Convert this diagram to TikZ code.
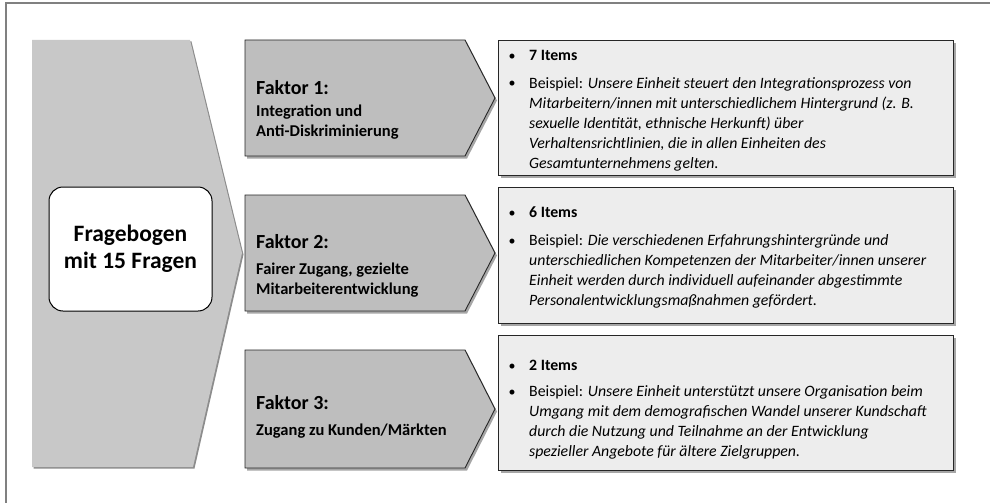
\documentclass[tikz,border=0pt]{standalone}
\usepackage{fontspec}
\setmainfont{Carlito}
\usetikzlibrary{shadows}

\definecolor{framegray}{HTML}{808080}
\definecolor{leftgray}{HTML}{C8C8C8}
\definecolor{faktorgray}{HTML}{BEBEBE}
\definecolor{boxgray}{HTML}{EDEDED}

\tikzset{
  softshadow/.style={drop shadow={shadow xshift=2pt,shadow yshift=-2.5pt,opacity=0.35,fill=black}},
  faktor/.style={draw=black!85,line width=0.9pt,fill=faktorgray,softshadow},
  itembox/.style={draw=black!85,line width=1pt,fill=boxgray,softshadow,
    anchor=north west,inner sep=0pt,minimum width=455pt},
  fragebox/.style={draw=black,line width=1pt,fill=white,rounded corners=14pt,
    minimum width=163pt,minimum height=124pt,align=center,
    font=\bfseries\fontsize{23.5}{27}\selectfont},
  faktorhead/.style={anchor=base west,inner sep=0pt,font=\bfseries\fontsize{20}{24}\selectfont},
  faktorsub/.style={anchor=north west,inner sep=0pt,align=left,font=\bfseries\fontsize{16.5}{20}\selectfont},
  bulletdot/.style={anchor=base,inner sep=0pt,font=\fontsize{14}{20}\selectfont},
  headline/.style={anchor=base west,inner sep=0pt,font=\bfseries\fontsize{15.8}{20}\selectfont},
  bodytext/.style={anchor=north west,inner sep=0pt,align=left,font=\fontsize{15.8}{20}\selectfont}
}

\begin{document}
\begin{tikzpicture}[x=1pt,y=-1pt]
  \useasboundingbox (0,0) rectangle (990,503);

  % Frame
  \draw[framegray,line width=1.2pt] (6,503) -- (6,3) -- (990,3);

  % Big arrow on the left
  \fill[leftgray,drop shadow={shadow xshift=1.5pt,shadow yshift=-1.5pt,opacity=0.45,fill=black}]
    (32,40) -- (190,40) -- (242,253) -- (193,467) -- (32,467) -- cycle;
  \node[fragebox] (frage) at (130.5,249) {Fragebogen\\mit 15 Fragen};

  % Faktor arrows
  \draw[faktor] (245,40) -- (465,40) -- (495,98) -- (465,156) -- (245,156) -- cycle;
  \draw[faktor] (245,195) -- (465,195) -- (495,253) -- (465,311) -- (245,311) -- cycle;
  \draw[faktor] (245,350) -- (465,350) -- (495,409) -- (465,468) -- (245,468) -- cycle;

  \node[faktorhead] (f1) at (256,94) {Faktor 1:};
  \node[faktorsub] (f1sub) at (256,105) {Integration und\\Anti-Diskriminierung};
  \node[faktorhead] (f2) at (256,248) {Faktor 2:};
  \node[faktorsub] (f2sub) at (256,263) {Fairer Zugang, gezielte\\Mitarbeiterentwicklung};
  \node[faktorhead] (f3) at (256,409) {Faktor 3:};
  \node[faktorsub] (f3sub) at (256,424) {Zugang zu Kunden/Märkten};

  % Item boxes
  \node[itembox,minimum height=135pt] (box1) at (498,40) {};
  \node[itembox,minimum height=136pt] (box2) at (498,187) {};
  \node[itembox,minimum height=135pt] (box3) at (498,335) {};

  % Box 1
  \node[bulletdot] (b1a) at (512,60) {•};
  \node[headline] (h1) at (529,60) {7 Items};
  \node[bulletdot] (b1b) at (512,88) {•};
  \node[bodytext] (t1) at (529,77) {Beispiel: \textit{Unsere Einheit steuert den Integrationsprozess von}\\
    \textit{Mitarbeitern/innen mit unterschiedlichem Hintergrund (z. B.}\\
    \textit{sexuelle Identität, ethnische Herkunft) über}\\
    \textit{Verhaltensrichtlinien, die in allen Einheiten des}\\
    \textit{Gesamtunternehmens gelten.}};

  % Box 2
  \node[bulletdot] (b2a) at (512,217) {•};
  \node[headline] (h2) at (529,217) {6 Items};
  \node[bulletdot] (b2b) at (512,245) {•};
  \node[bodytext] (t2) at (529,234) {Beispiel: \textit{Die verschiedenen Erfahrungshintergründe und}\\
    \textit{unterschiedlichen Kompetenzen der Mitarbeiter/innen unserer}\\
    \textit{Einheit werden durch individuell aufeinander abgestimmte}\\
    \textit{Personalentwicklungsmaßnahmen gefördert.}};

  % Box 3
  \node[bulletdot] (b3a) at (512,370) {•};
  \node[headline] (h3) at (529,370) {2 Items};
  \node[bulletdot] (b3b) at (512,396) {•};
  \node[bodytext] (t3) at (529,385) {Beispiel: \textit{Unsere Einheit unterstützt unsere Organisation beim}\\
    \textit{Umgang mit dem demografischen Wandel unserer Kundschaft}\\
    \textit{durch die Nutzung und Teilnahme an der Entwicklung}\\
    \textit{spezieller Angebote für ältere Zielgruppen.}};
\end{tikzpicture}
\end{document}
